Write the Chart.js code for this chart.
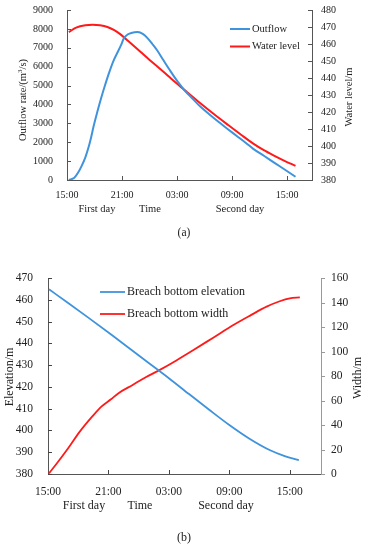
<!DOCTYPE html>
<html>
<head>
<meta charset="utf-8">
<script src="https://cdn.jsdelivr.net/npm/chart.js@4.4.0/dist/chart.umd.min.js"></script>
<style>
  html, body { margin: 0; padding: 0; background: #fff; }
  body { width: 368px; height: 550px; position: relative; overflow: hidden;
         font-family: "Liberation Serif", "DejaVu Serif", serif; color: #222; }
  .box { position: absolute; left: 0; width: 368px; }
  .lbl { position: absolute; white-space: nowrap; transform: translate(-50%, -50%); }
  .rot { transform: translate(-50%, -50%) rotate(-90deg); }
</style>
</head>
<body>
<div class="box" style="top:0;height:215px"><canvas id="chartA"></canvas></div>
<div class="box" style="top:255px;height:250px"><canvas id="chartB"></canvas></div>

<!-- chart (a) texts -->
<div class="lbl rot" style="left:22px;top:100px;font-size:10.5px">Outflow rate/(m<sup style="font-size:7px">3</sup>/s)</div>
<div class="lbl rot" style="left:348px;top:97px;font-size:10.5px">Water level/m</div>
<div class="lbl" style="left:97px;top:208px;font-size:10.5px">First day</div>
<div class="lbl" style="left:150px;top:208px;font-size:10.5px">Time</div>
<div class="lbl" style="left:240px;top:208px;font-size:10.5px">Second day</div>
<div class="lbl" style="left:184px;top:232px;font-size:11.5px">(a)</div>

<!-- chart (b) texts -->
<div class="lbl rot" style="left:9px;top:377px;font-size:12px">Elevation/m</div>
<div class="lbl rot" style="left:357px;top:378px;font-size:12px">Width/m</div>
<div class="lbl" style="left:84px;top:505px;font-size:12px">First day</div>
<div class="lbl" style="left:140px;top:505px;font-size:12px">Time</div>
<div class="lbl" style="left:226px;top:505px;font-size:12px">Second day</div>
<div class="lbl" style="left:184px;top:537px;font-size:12px">(b)</div>

<script>
// hours after 15:00 of the first day
const timeLabels = ['15:00', '21:00', '03:00', '09:00', '15:00'];

// (a) outflow and reservoir water level
const outflowHours = [0.2, 0.8, 1.2, 1.6, 2.0, 2.3, 2.6, 2.9, 3.3, 3.7, 4.1, 4.6, 5.1, 5.5, 5.9, 6.2, 6.6, 7.1, 7.7,
    8.3, 8.8, 9.3, 9.8, 10.5, 11.2, 12.0, 12.9, 13.7, 14.5, 15.5, 16.5, 17.5, 18.5, 19.5, 20.3, 21.5, 22.7, 23.8, 24.9];
const outflowValues = [0, 120, 380, 750, 1200, 1650, 2200, 2850, 3600, 4300, 4950, 5700, 6350, 6750, 7150, 7500, 7700, 7800, 7830,
    7720, 7500, 7200, 6880, 6350, 5820, 5250, 4700, 4300, 3900, 3480, 3080, 2700, 2330, 1960, 1650, 1270, 880, 530, 170];

const levelHours = [0.2, 1.0, 2.0, 2.8, 3.6, 4.4, 5.2, 5.8, 6.5, 7.2, 8.0, 9.0, 10.0, 11.0, 12.0, 13.1, 14.5,
    16.0, 17.5, 19.0, 20.3, 21.4, 22.5, 23.7, 24.9];
const levelValues = [467.0, 469.6, 471.0, 471.3, 471.0, 470.0, 468.0, 465.8, 462.5, 459.2, 455.4, 450.6, 446.0, 441.3, 436.6, 431.6, 425.3,
    418.8, 412.6, 406.5, 401.4, 397.7, 394.5, 391.3, 388.3];

// (b) breach bottom elevation and width
const elevHours = [0.1, 2.0, 4.0, 6.0, 6.4, 8.0, 10.0, 12.0, 14.0, 16.0, 18.0, 20.0, 22.0, 23.5, 24.9];
const elevValues = [464.8, 458.5, 451.8, 445.0, 443.6, 438.0, 431.0, 424.0, 416.7, 409.5, 402.5, 396.2, 391.0, 388.2, 386.4];

const widthHours = [0.1, 1.0, 2.0, 3.1, 4.4, 5.3, 6.25, 7.0, 8.4, 9.7, 11.1, 12.7, 14.4, 16.4, 18.4, 20.1, 21.7, 23.0, 24.0, 25.0];
const widthValues = [0.5, 10, 21, 34, 47, 55, 61, 66, 72.7, 79, 85, 92.5, 101, 111.3, 121.6, 129.5, 136.6, 141, 143.4, 144.2];

const FONT = '"Liberation Serif", "DejaVu Serif", serif';
const BLUE = '#3f93dc';
const RED = '#ff1a1a';

function pts(xs, ys) {
    return xs.map((x, i) => ({ x: x, y: ys[i] }));
}

// small tick marks drawn inside (or outside) the axis lines
const tickMarks = {
    id: 'tickMarks',
    afterDraw(chart, args, opts) {
        const ctx = chart.ctx;
        ctx.save();
        ctx.lineWidth = 1;
        (opts.axes || []).forEach(ax => {
            const s = chart.scales[ax.id];
            ctx.strokeStyle = ax.color;
            ctx.beginPath();
            s.ticks.forEach((t, i) => {
                if (ax.skipFirst && i === 0) return;
                const p = Math.round(s.getPixelForTick(i)) + 0.5;
                if (s.isHorizontal()) {
                    ctx.moveTo(p, s.top);
                    ctx.lineTo(p, s.top - ax.len);
                } else {
                    const x = s.position === 'left' ? s.right : s.left;
                    ctx.moveTo(x, p);
                    ctx.lineTo(x + ax.dir * ax.len, p);
                }
            });
            ctx.stroke();
        });
        ctx.restore();
    }
};

// legend with line samples placed inside the plot
const lineLegend = {
    id: 'lineLegend',
    afterDraw(chart, args, opts) {
        const ctx = chart.ctx;
        ctx.save();
        ctx.font = opts.font;
        ctx.textBaseline = 'middle';
        ctx.fillStyle = '#222';
        chart.data.datasets.forEach((ds, i) => {
            const y = opts.y + i * opts.gap;
            ctx.strokeStyle = ds.borderColor;
            ctx.lineWidth = ds.borderWidth;
            ctx.beginPath();
            ctx.moveTo(opts.x, y);
            ctx.lineTo(opts.x + opts.len, y);
            ctx.stroke();
            ctx.fillText(ds.label, opts.x + opts.len + 2, y);
        });
        ctx.restore();
    }
};

// fixed box sizes so the plot area sits where it does in the figure
function fixSize(prop, size) {
    return s => {
        s[prop] = size;
        s.paddingTop = 0; s.paddingBottom = 0;
        s.paddingLeft = 0; s.paddingRight = 0;
    };
}

function axis(extra) {
    return Object.assign({
        grid: { display: false, drawTicks: false },
        border: { color: '#555', width: 1 }
    }, extra);
}

function tickOpts(size, padding, more) {
    return Object.assign({ color: '#222', padding: padding, font: { family: FONT, size: size },
        callback: v => String(v) }, more);
}

new Chart(document.getElementById('chartA'), {
    type: 'line',
    data: {
        datasets: [
            { label: 'Outflow', data: pts(outflowHours, outflowValues), yAxisID: 'y',
              borderColor: BLUE, borderWidth: 2, pointRadius: 0, cubicInterpolationMode: 'monotone' },
            { label: 'Water level', data: pts(levelHours, levelValues), yAxisID: 'y1',
              borderColor: RED, borderWidth: 2, pointRadius: 0, cubicInterpolationMode: 'monotone' }
        ]
    },
    options: {
        responsive: true, maintainAspectRatio: false, animation: false,
        layout: { padding: { top: 10, left: 0, right: 0, bottom: 0 } },
        scales: {
            x: axis({ type: 'linear', min: 0, max: 26.7,
                afterFit: fixSize('height', 35),
                ticks: tickOpts(10, 9, { stepSize: 6, includeBounds: false, maxRotation: 0, autoSkip: false,
                    callback: v => timeLabels[v / 6] }) }),
            y: axis({ position: 'left', min: 0, max: 9000,
                afterFit: fixSize('width', 67),
                ticks: tickOpts(10, 14, { stepSize: 1000 }) }),
            y1: axis({ position: 'right', min: 380, max: 480,
                afterFit: fixSize('width', 56),
                ticks: tickOpts(10, 9, { stepSize: 10 }) })
        },
        plugins: {
            legend: { display: false },
            tooltip: { enabled: false },
            tickMarks: { axes: [
                { id: 'x', len: 4, color: '#555', skipFirst: true },
                { id: 'y', len: 4, dir: 1, color: '#555' },
                { id: 'y1', len: 4, dir: -1, color: '#555' }
            ] },
            lineLegend: { x: 230, y: 29, gap: 17.5, len: 20, font: '10.5px ' + FONT }
        }
    },
    plugins: [tickMarks, lineLegend]
});

new Chart(document.getElementById('chartB'), {
    type: 'line',
    data: {
        datasets: [
            { label: 'Breach bottom elevation', data: pts(elevHours, elevValues), yAxisID: 'y',
              borderColor: BLUE, borderWidth: 1.8, pointRadius: 0, cubicInterpolationMode: 'monotone' },
            { label: 'Breach bottom width', data: pts(widthHours, widthValues), yAxisID: 'y1',
              borderColor: RED, borderWidth: 1.8, pointRadius: 0, cubicInterpolationMode: 'monotone' }
        ]
    },
    options: {
        responsive: true, maintainAspectRatio: false, animation: false,
        layout: { padding: { top: 23, left: 0, right: 0, bottom: 0 } },
        scales: {
            x: axis({ type: 'linear', min: 0, max: 27.1,
                afterFit: fixSize('height', 31),
                ticks: tickOpts(11.5, 11, { stepSize: 6, includeBounds: false, maxRotation: 0, autoSkip: false,
                    callback: v => timeLabels[v / 6] }) }),
            y: axis({ position: 'left', min: 380, max: 470,
                afterFit: fixSize('width', 48),
                ticks: tickOpts(11.5, 15, { stepSize: 10 }) }),
            y1: axis({ position: 'right', min: 0, max: 160,
                afterFit: fixSize('width', 47),
                border: { color: '#999', width: 1 },
                ticks: tickOpts(11.5, 10, { stepSize: 20 }) })
        },
        plugins: {
            legend: { display: false },
            tooltip: { enabled: false },
            tickMarks: { axes: [
                { id: 'x', len: 4, color: '#444', skipFirst: true },
                { id: 'y', len: 4, dir: 1, color: '#444' },
                { id: 'y1', len: 4, dir: 1, color: '#999' }
            ] },
            lineLegend: { x: 100, y: 37, gap: 22, len: 25, font: '12px ' + FONT }
        }
    },
    plugins: [tickMarks, lineLegend]
});
</script>
</body>
</html>
